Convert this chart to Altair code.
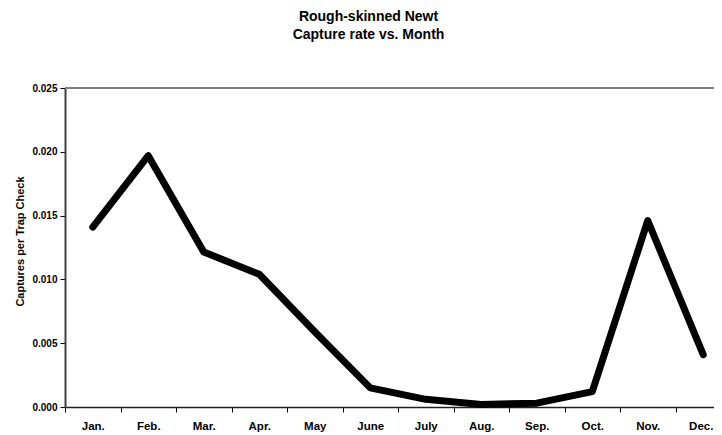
import altair as alt
import pandas as pd

months = ["Jan.", "Feb.", "Mar.", "Apr.", "May", "June", "July", "Aug.", "Sep.", "Oct.", "Nov.", "Dec."]
rate = [0.0141, 0.0197, 0.01215, 0.0104, 0.0059, 0.0015, 0.0006, 0.0002, 0.0003, 0.0012, 0.0146, 0.0041]
y_ticks = [0.0, 0.005, 0.010, 0.015, 0.020, 0.025]
title_lines = ["Rough-skinned Newt", "Capture rate vs. Month"]
y_title = "Captures per Trap Check"

# month i is drawn at the centre of its band (i + 0.5)
df = pd.DataFrame({"month": months, "pos": [i + 0.5 for i in range(len(months))], "rate": rate})

W = 649          # visible plot width (the plot continues past the right edge)
H = 319
BAND = 55.5      # pixel width of one month band
FONT = "Liberation Sans"

x_values = [i * 0.5 for i in range(2 * len(months))]
month_js = "[" + ",".join("'" + m + "'" for m in months) + "]"
last_center = len(months) - 0.5

x_enc = alt.X(
    "pos:Q",
    scale=alt.Scale(domain=[0, W / BAND], nice=False, zero=False),
    axis=alt.Axis(
        title=None,
        values=x_values,
        labelExpr="datum.value % 1 == 0 ? '' : " + month_js + "[floor(datum.value)]",
        labelOverlap=False,
        labelFlush=False,
        labelBound=False,
        labelAngle=0,
        labelFont=FONT,
        labelFontSize=11.5,
        labelFontWeight="bold",
        labelColor="black",
        labelPadding=8,
        labelOffset={"condition": {"test": "datum.value == " + str(last_center), "value": -2.5}, "value": 0},
        tickSize=5,
        tickColor="black",
        tickWidth=1,
        tickOpacity={"condition": {"test": "datum.value % 1 == 0", "value": 1}, "value": 0},
        domainColor="#202020",
        domainWidth=1.5,
        grid=False,
    ),
)

y_enc = alt.Y(
    "rate:Q",
    scale=alt.Scale(domain=[0, 0.025], nice=False, zero=True),
    axis=alt.Axis(
        title=y_title,
        titleFont=FONT,
        titleFontSize=11,
        titleFontWeight="bold",
        titleColor="black",
        titlePadding=6,
        titleY=153,
        values=y_ticks,
        format=".3f",
        labelFont=FONT,
        labelFontSize=10,
        labelFontWeight="bold",
        labelColor="black",
        labelPadding=3,
        tickSize=5,
        tickColor="black",
        domainColor="#404040",
        domainWidth=2,
        grid=False,
    ),
)

line = alt.Chart(df).mark_line(
    color="black", strokeWidth=7, strokeCap="round", strokeJoin="round"
).encode(x=x_enc, y=y_enc)

top_border = alt.Chart(df).mark_rule(color="#808080", strokeWidth=2).encode(
    x=alt.value(0), x2=alt.value(W), y=alt.value(0)
)

chart = alt.layer(top_border, line).properties(
    width=W,
    height=H,
    autosize=alt.AutoSizeParams(type="none"),
    padding={"left": 57, "top": 80, "right": 0, "bottom": 27},
    title=alt.TitleParams(
        text=title_lines,
        font=FONT,
        fontSize=14,
        fontWeight="bold",
        color="black",
        lineHeight=18,
        anchor="middle",
        frame="group",
        offset=41,
        dx=-21,
    ),
).configure_view(stroke=None).configure(background="white")

chart.save("out.html", embed_options={"renderer": "svg", "actions": False})
